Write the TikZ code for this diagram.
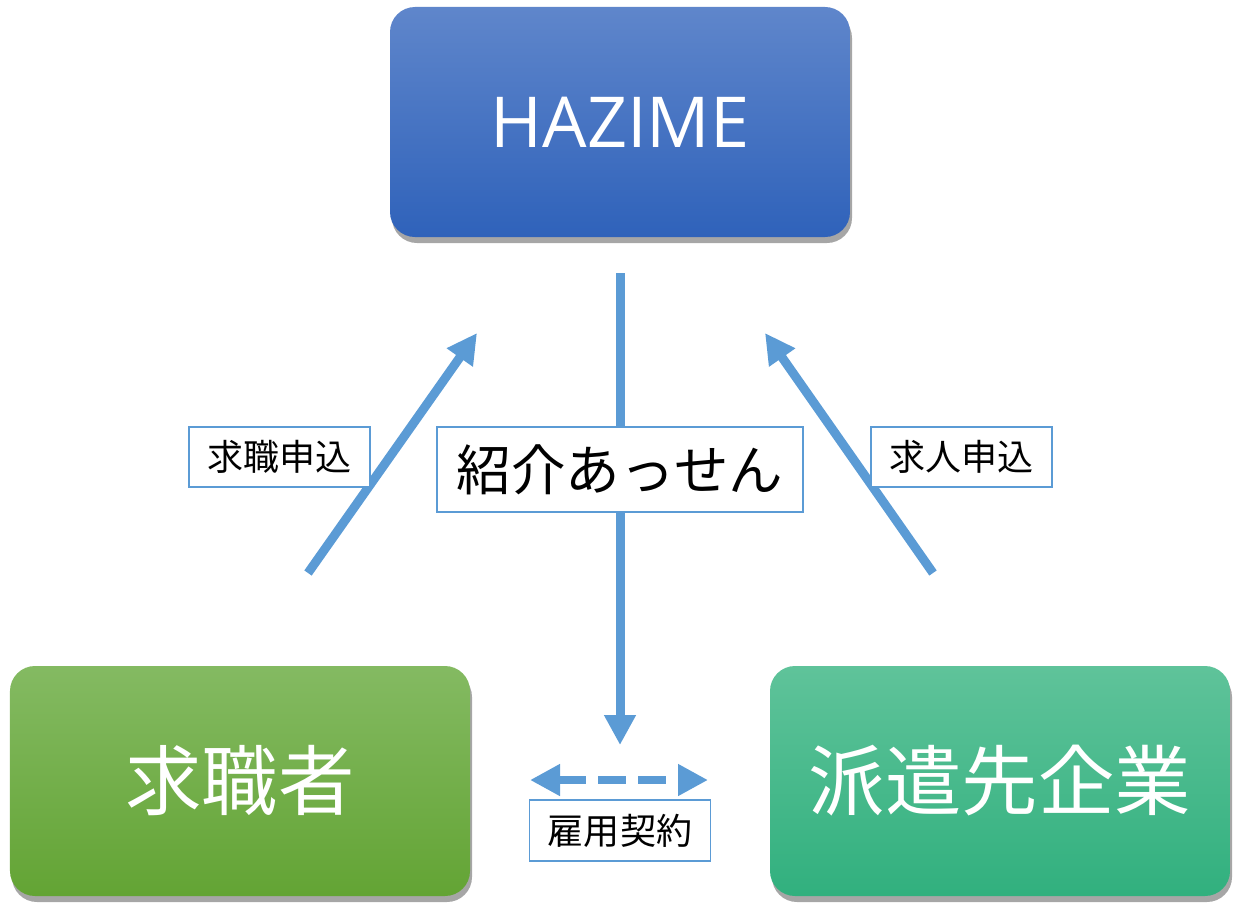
\documentclass[tikz,border=0pt]{standalone}
\usepackage{fontspec}
\setmainfont{Noto Sans CJK JP}
\newfontfamily\latinfont{Open Sans}
\usepackage{tikz}
\usetikzlibrary{arrows.meta,shadows}
\definecolor{hazimetop}{RGB}{95,134,203}
\definecolor{hazimebot}{RGB}{47,98,186}
\definecolor{seekertop}{RGB}{132,186,98}
\definecolor{seekerbot}{RGB}{99,164,52}
\definecolor{firmtop}{RGB}{95,195,154}
\definecolor{firmbot}{RGB}{49,176,126}
\definecolor{flowblue}{RGB}{91,155,213}
\tikzset{
  party/.style={rounded corners=5mm,minimum width=92mm,minimum height=46mm,
                text=white,inner sep=0pt,
                drop shadow={shadow xshift=0.4mm,shadow yshift=-1.2mm,opacity=0.35,fill=black}},
  flow/.style={flowblue,line width=1.8mm,-{Triangle[length=6mm,width=6mm]}},
  tag/.style={draw=flowblue,line width=0.3mm,fill=white,text=black,inner sep=0pt,
              font=\fontsize{20.5}{24}\selectfont,minimum width=36.2mm,minimum height=12mm},
}

\begin{document}
\begin{tikzpicture}[x=0.2mm,y=-0.2mm]
  \path[use as bounding box] (0,0) rectangle (1255,909);

  \node[party,top color=hazimetop,bottom color=hazimebot,
        font=\latinfont\fontsize{40}{48}\selectfont] (hazime) at (620,122) {HAZIME};
  \node[party,top color=seekertop,bottom color=seekerbot,
        font=\fontsize{43.5}{50}\selectfont] (seeker) at (240,781) {求職者};
  \node[party,top color=firmtop,bottom color=firmbot,
        font=\fontsize{43.5}{50}\selectfont] (firm) at (1000,781) {派遣先企業};

  \coordinate (applyS) at (308,573);
  \coordinate (applyE) at (477,333);
  \coordinate (offerS) at (933,573);
  \coordinate (offerE) at (765,333);
  \coordinate (introS) at (620,273);
  \coordinate (introE) at (620,745);
  \coordinate (contractL) at (530,780);
  \coordinate (contractR) at (708,780);

  \draw[flow] (applyS) -- (applyE);
  \draw[flow] (offerS) -- (offerE);
  \draw[flow] (introS) -- (introE);
  \draw[flowblue,line width=1.6mm,dash pattern=on 5.6mm off 2.4mm,
        {Triangle[length=6mm,width=6mm]}-{Triangle[length=6mm,width=6mm]}]
    (contractL) -- (contractR);

  \node[tag] (apply) at (279.5,457) {求職申込};
  \node[tag] (offer) at (961.5,457) {求人申込};
  \node[tag,font=\fontsize{31}{36}\selectfont,minimum width=73.2mm,minimum height=17mm]
    (intro) at (620,469.5) {紹介あっせん};
  \node[tag,minimum height=12.2mm] (contract) at (620,830.5) {雇用契約};
\end{tikzpicture}
\end{document}
